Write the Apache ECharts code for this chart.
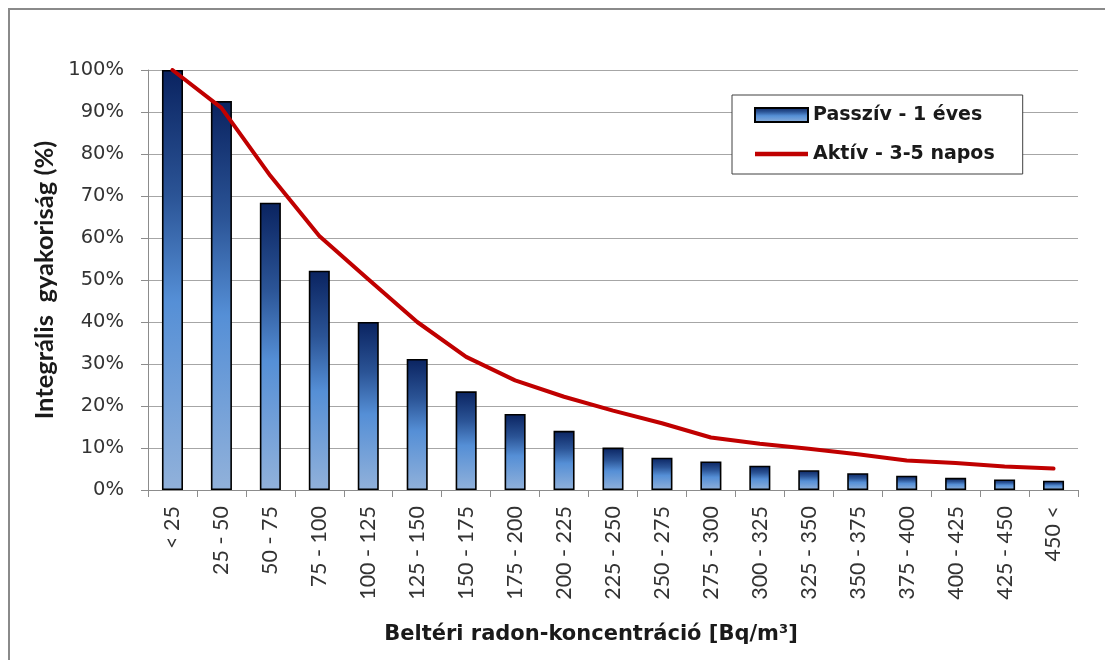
<!DOCTYPE html>
<html>
<head>
<meta charset="utf-8">
<script src="https://cdn.jsdelivr.net/npm/echarts@6/dist/echarts.min.js"></script>
<style>
  html, body { margin: 0; padding: 0; background: #ffffff; }
  #chart { width: 1105px; height: 660px; }
</style>
</head>
<body>
<div id="chart"></div>
<script>
// Concentration classes (Bq/m³)
var categories = ['< 25', '25 - 50', '50 - 75', '75 - 100', '100 - 125', '125 - 150',
  '150 - 175', '175 - 200', '200 - 225', '225 - 250', '250 - 275', '275 - 300',
  '300 - 325', '325 - 350', '350 - 375', '375 - 400', '400 - 425', '425 - 450', '450 <'];

// Integral frequency (%), passive 1-year measurements
var passiveValues = [100, 92.6, 68.4, 52.2, 40.0, 31.2, 23.5, 18.1, 14.1, 10.1,
  7.7, 6.8, 5.8, 4.7, 4.0, 3.4, 2.9, 2.5, 2.2];

// Integral frequency (%), active 3-5 day measurements
var activeValues = [100, 91.0, 74.8, 60.5, 50.2, 40.0, 31.7, 26.1, 22.2, 18.9,
  15.9, 12.5, 11.0, 9.8, 8.5, 7.0, 6.4, 5.6, 5.1];

var yTicks = [0, 10, 20, 30, 40, 50, 60, 70, 80, 90, 100];

var chart = echarts.init(document.getElementById('chart'), null, { renderer: 'canvas' });

var barGradient = new echarts.graphic.LinearGradient(0, 0, 0, 1, [
  { offset: 0, color: '#0a2360' },
  { offset: 0.3, color: '#2b5496' },
  { offset: 0.55, color: '#558fd6' },
  { offset: 1, color: '#91b1da' }
]);

chart.setOption({
  animation: false,
  backgroundColor: '#ffffff',
  graphic: [{
    type: 'rect',
    shape: { x: 9, y: 9, width: 1120, height: 680 },
    style: { fill: 'none', stroke: '#8a8a8a', lineWidth: 2 },
    z: -10
  }],
  grid: { left: 148, right: 27, top: 70, bottom: 170, containLabel: false },
  legend: {
    orient: 'vertical',
    left: 732,
    top: 95,
    padding: [7, 28, 7, 22],
    itemGap: 13,
    itemWidth: 53,
    itemHeight: 14,
    symbolKeepAspect: true,
    borderColor: '#404040',
    borderWidth: 1,
    backgroundColor: '#ffffff',
    textStyle: {
      fontFamily: '"DejaVu Sans", sans-serif', fontSize: 19, fontWeight: 'bold', color: '#1a1a1a',
      lineHeight: 26, padding: [0, 0, 0, 0]
    },
    data: [
      { name: 'Passzív - 1 éves', icon: 'rect' },
      { name: 'Aktív - 3-5 napos', icon: 'path://M0,0 L53,0 L53,4.5 L0,4.5 Z',
        itemStyle: { color: '#c00000', borderWidth: 0 } }
    ]
  },
  xAxis: {
    type: 'category',
    data: categories,
    boundaryGap: true,
    name: 'Beltéri radon-koncentráció [Bq/m³]',
    nameLocation: 'middle',
    nameGap: 134,
    nameTextStyle: {
      fontFamily: '"DejaVu Sans", sans-serif', fontSize: 21, fontWeight: 'bold', color: '#1a1a1a',
      padding: [0, 44, 0, 0]
    },
    axisLine: { lineStyle: { color: '#8c8c8c', width: 1 } },
    axisTick: { show: true, length: 7, alignWithLabel: false, lineStyle: { color: '#8c8c8c' } },
    axisLabel: {
      rotate: 90,
      interval: 0,
      margin: 16,
      fontFamily: 'Lato, sans-serif', fontSize: 21.5, color: '#333333'
    }
  },
  yAxis: {
    type: 'value',
    min: yTicks[0],
    max: yTicks[yTicks.length - 1],
    interval: 10,
    name: 'Integrális  gyakoriság (%)',
    nameLocation: 'middle',
    nameGap: 86,
    nameTextStyle: { fontFamily: 'Lato, sans-serif', fontSize: 25.5, fontWeight: 'bold', color: '#1a1a1a' },
    axisLine: { show: true, lineStyle: { color: '#8c8c8c', width: 1 } },
    axisTick: { show: true, length: 7, inside: false, lineStyle: { color: '#8c8c8c' } },
    axisLabel: {
      margin: 24,
      fontFamily: '"DejaVu Sans", sans-serif', fontSize: 19.5, color: '#333333',
      formatter: function (v) { return v + '%'; }
    },
    splitLine: { show: true, lineStyle: { color: '#a6a6a6', width: 1 } }
  },
  series: [
    {
      name: 'Passzív - 1 éves',
      type: 'bar',
      data: passiveValues,
      barWidth: '43%',
      itemStyle: { color: barGradient, borderColor: '#000000', borderWidth: 1.6 },
      z: 2
    },
    {
      name: 'Aktív - 3-5 napos',
      type: 'line',
      data: activeValues,
      symbol: 'none',
      smooth: false,
      lineStyle: { color: '#c00000', width: 4, join: 'round', cap: 'round' },
      itemStyle: { color: '#c00000' },
      z: 3
    }
  ]
});
</script>
</body>
</html>
